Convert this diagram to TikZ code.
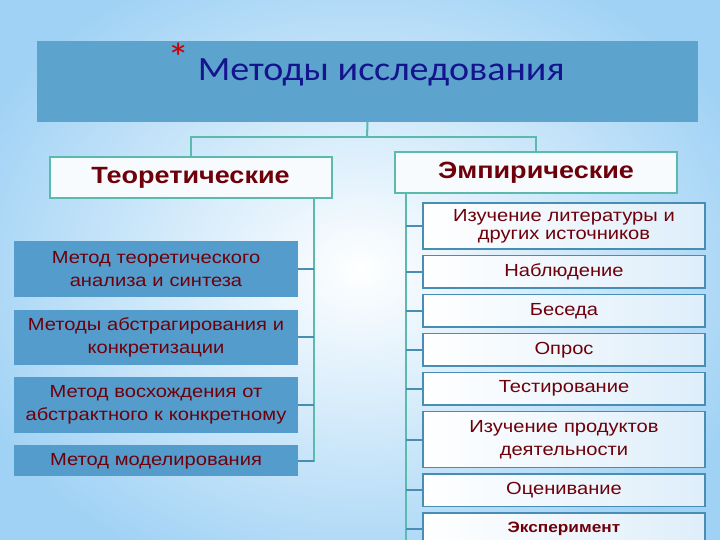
\documentclass[tikz,border=0pt]{standalone}
\usepackage{fontspec}
\setmainfont{Liberation Sans}[FakeStretch=1.15]
\newfontfamily\headfont{Carlito}[FakeStretch=1.12]
\usetikzlibrary{positioning}

\definecolor{bgblue}{RGB}{160,210,245}
\definecolor{headfill}{RGB}{92,164,206}
\definecolor{headtext}{RGB}{20,20,140}
\definecolor{boxfill}{RGB}{84,156,204}
\definecolor{dred}{RGB}{110,0,10}
\definecolor{teal}{RGB}{90,186,172}
\definecolor{steel}{RGB}{72,142,180}
\definecolor{paleblue}{RGB}{222,238,250}

\begin{document}
\begin{tikzpicture}[
  x=1pt, y=-1pt,
  node distance=12pt,
  lbox/.style={fill=boxfill, minimum width=284pt, text width=280pt, align=center, inner sep=2pt, text=dred, font=\fontsize{17.5}{23}\selectfont},
  rbox/.style={draw=steel, line width=1.6pt, outer sep=0pt, left color=white, right color=paleblue, minimum width=282pt, text width=278pt, minimum height=32.5pt, align=center, inner sep=2pt, text=dred, font=\fontsize{17.5}{23}\selectfont},
  kind/.style={draw=teal, line width=2pt, fill=white!92!bgblue, minimum width=282pt, minimum height=41pt, text=dred, font=\bfseries\fontsize{23.5}{26}\selectfont},
  conn/.style={teal, line width=2pt},
  twig/.style={steel, line width=2pt}
]
\clip (0,0) rectangle (720,540);
\shade[inner color=white, outer color=bgblue] (-60,-60) rectangle (780,600);

% heading
\node[fill=headfill, minimum width=661pt, minimum height=81pt, inner sep=0pt] (title) at (367.5,81.5) {};
\node[font=\headfont\fontsize{34}{40}\selectfont, text=headtext, anchor=base] (titletext) at (366,81)
  {\raisebox{9.5pt}{\textcolor{red!80!black}{\fontsize{40}{40}\selectfont*}}\hspace{8pt}Методы исследования};

\node[kind] (teor) at (190.5,178) {Теоретические};
\node[kind] (emp) at (536,172.5) {Эмпирические};

\coordinate (split) at (367,137);
\draw[conn] (title.south) -- (split);
\draw[conn] (split) -| (teor.north);
\draw[conn] (split) -| (emp.north);

% theoretical methods
\node[lbox, minimum height=56pt, anchor=north] (t1) at (156,241) {Метод теоретического\\анализа и синтеза};
\node[lbox, minimum height=55pt, below=of t1] (t2) {Методы абстрагирования и\\конкретизации};
\node[lbox, minimum height=56pt, below=of t2] (t3) {Метод восхождения от\\абстрактного к конкретному};
\node[lbox, minimum height=31pt, below=of t3] (t4) {Метод моделирования};

\coordinate (lspine) at (314,0);
\draw[conn] (teor.south -| lspine) |- (t4.east);
\foreach \n in {t1,t2,t3,t4}
  \draw[twig] (\n.east) -- (\n.east -| lspine);

% empirical methods
\begin{scope}[node distance=6.5pt]
\node[rbox, minimum height=46pt, anchor=north] (e1) at (564,203) {Изучение литературы и\\[-5pt]других источников};
\node[rbox, below=of e1] (e2) {Наблюдение};
\node[rbox, below=of e2] (e3) {Беседа};
\node[rbox, below=of e3] (e4) {Опрос};
\node[rbox, below=of e4] (e5) {Тестирование};
\node[rbox, minimum height=56pt, below=of e5] (e6) {Изучение продуктов\\деятельности};
\node[rbox, below=of e6] (e7) {Оценивание};
\node[rbox, below=of e7, font=\bfseries\fontsize{15}{17}\selectfont] (e8) {Эксперимент};
\end{scope}

\coordinate (rspine) at (406,560);
\draw[conn] (emp.south -| rspine) -- (rspine);
\foreach \n in {e1,e2,e3,e4,e5,e6,e7,e8}
  \draw[twig] (\n.west) -- (\n.west -| rspine);
\end{tikzpicture}
\end{document}
